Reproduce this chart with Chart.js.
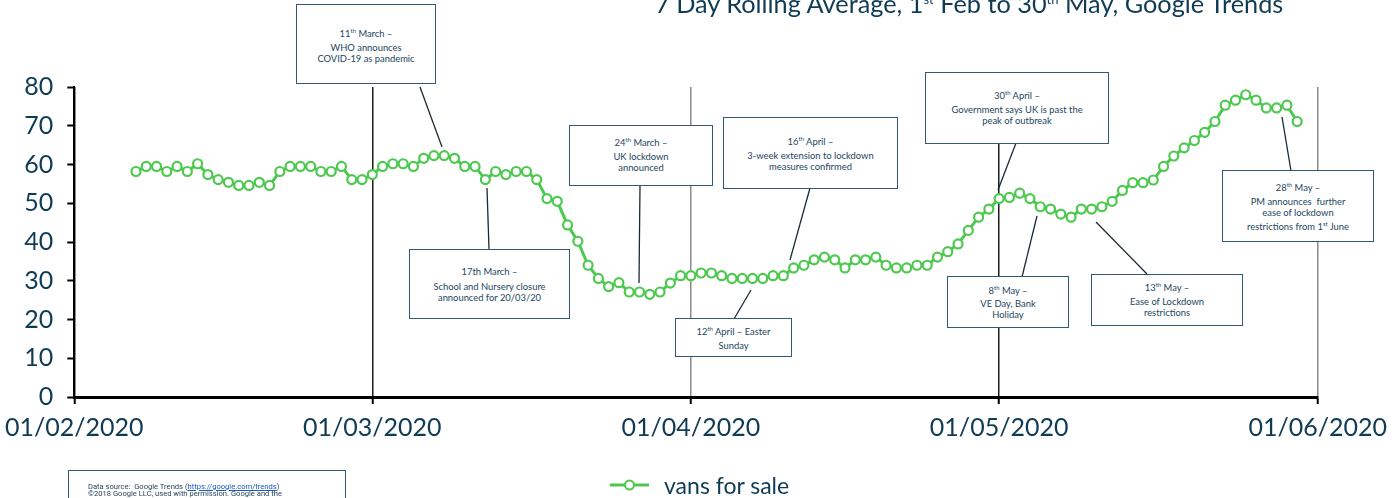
<!DOCTYPE html>
<html lang="en">
<head>
<meta charset="UTF-8">
<title>vans for sale - Google Trends</title>
<script src="https://cdn.jsdelivr.net/npm/chart.js"></script>
<style>
    body { margin: 0; background: #fff; }
    .wrap { position: relative; width: 1392px; height: 498px; overflow: hidden; font-family: Lato, sans-serif; }
    canvas { position: absolute; left: 0; top: 0; }
    .title { position: absolute; left: 655px; top: -12px; font-size: 25.3px; color: #0f3b55; white-space: nowrap; }
    .title sup { font-size: 13px; }
    .note { position: absolute; background: #fff; border: 1.5px solid #34586e; box-sizing: border-box;
            text-align: center; font-size: 9.4px; line-height: 11px; color: #23465e; }
    .note .h { margin-bottom: 2.5px; }
    .note sup { font-size: 6px; line-height: 0; }
    svg.links { position: absolute; left: 0; top: 0; }
    .source { position: absolute; left: 68px; top: 470px; width: 278px; height: 40px; border: 1.5px solid #34586e;
              box-sizing: border-box; font-family: Roboto, sans-serif; font-size: 7.6px; line-height: 7px;
              color: #1f3d55; padding: 12px 0 0 19px; white-space: nowrap; }
    .source a { color: #1a56c4; text-decoration: underline; }
    .legend { position: absolute; left: 608px; top: 472px; height: 26px; display: flex; align-items: center; }
    .legend span { font-size: 23px; color: #0f3b55; margin-left: 12px; }
</style>
</head>
<body>
<div class="wrap">
    <canvas id="trendChart" width="1392" height="498"></canvas>

    <div class="title">7 Day Rolling Average, 1<sup>st</sup> Feb to 30<sup>th</sup> May,  Google Trends</div>

    <!-- connector lines for the event notes -->
    <svg class="links" width="1392" height="498">
        <g stroke="#1b2b36" stroke-width="1.3">
            <line x1="420" y1="87" x2="442" y2="147"/>
            <line x1="487" y1="188" x2="489" y2="249"/>
            <line x1="640" y1="185" x2="639" y2="283"/>
            <line x1="734" y1="319" x2="751" y2="290"/>
            <line x1="810" y1="188" x2="790" y2="260"/>
            <line x1="1016" y1="143" x2="998" y2="190"/>
            <line x1="1022" y1="277" x2="1037" y2="216"/>
            <line x1="1147" y1="274" x2="1096" y2="222"/>
            <line x1="1291" y1="171" x2="1282" y2="117"/>
        </g>
    </svg>

    <div class="note" style="left:296px;top:4px;width:140px;height:80px;padding-top:23px;">
        <div class="h">11<sup>th</sup> March –</div>WHO announces<br>COVID-19 as pandemic</div>
    <div class="note" style="left:409px;top:249px;width:161px;height:70px;padding-top:16px;">
        <div class="h" style="margin-bottom:3.5px">17th March –</div>School and Nursery closure<br>announced for 20/03/20</div>
    <div class="note" style="left:569px;top:125px;width:144px;height:61px;padding-top:11px;">
        <div class="h">24<sup>th</sup> March –</div>UK lockdown<br>announced</div>
    <div class="note" style="left:675px;top:318px;width:117px;height:39px;padding-top:7px;">
        <div class="h">12<sup>th</sup> April – Easter</div>Sunday</div>
    <div class="note" style="left:723px;top:117px;width:175px;height:72px;padding-top:18px;">
        <div class="h">16<sup>th</sup> April –</div>3-week extension to lockdown<br>measures confirmed</div>
    <div class="note" style="left:925px;top:72px;width:184px;height:72px;padding-top:17px;">
        <div class="h">30<sup>th</sup> April –</div>Government says UK is past the<br>peak of outbreak</div>
    <div class="note" style="left:947px;top:276px;width:122px;height:52px;padding-top:8px;">
        <div class="h" style="margin-bottom:1.5px">8<sup>th</sup> May –</div>VE Day, Bank<br>Holiday</div>
    <div class="note" style="left:1091px;top:274px;width:152px;height:52px;padding-top:7px;">
        <div class="h">13<sup>th</sup> May –</div>Ease of Lockdown<br>restrictions</div>
    <div class="note" style="left:1222px;top:170px;width:152px;height:72px;padding-top:11px;">
        <div class="h">28<sup>th</sup> May –</div>PM announces &nbsp;further<br>ease of lockdown<br><div style="margin-top:3px">restrictions from 1<sup>st</sup> June</div></div>

    <div class="source">Data source:&nbsp; Google Trends (<a>https://google.com/trends</a>)<br>©2018 Google LLC, used with permission. Google and the</div>

    <div class="legend">
        <svg width="44" height="14"><line x1="2" y1="7" x2="41" y2="7" stroke="#4dc94f" stroke-width="3"/><circle cx="21.5" cy="7" r="4.5" fill="#fff" stroke="#4dc94f" stroke-width="2"/></svg>
        <span>vans for sale</span>
    </div>
</div>

<script>
    // days counted from 01/02/2020 (day 0)
    const firstDay = 6; // 7th Feb, first value of the rolling average
    const monthDays = [0, 29, 60, 90, 121];
    const monthLabels = ['01/02/2020', '01/03/2020', '01/04/2020', '01/05/2020', '01/06/2020'];

    // 7 day rolling average, 7th Feb .. 30th May
    const febValues = [58.2, 59.5, 59.5, 58.2, 59.5, 58.2, 60.2, 57.4, 56.1, 55.4, 54.6, 54.6,
        55.4, 54.6, 58.2, 59.5, 59.5, 59.5, 58.2, 58.2, 59.5, 56.1, 56.1];
    const marValues = [57.4, 59.5, 60.2, 60.2, 59.5, 61.6, 62.3, 62.3, 61.6, 59.5, 59.5, 56.1,
        58.2, 57.4, 58.2, 58.2, 56.1, 51.2, 50.5, 44.4, 40.2, 34.0, 30.6, 28.5, 29.5, 27.1,
        27.1, 26.5, 27.1, 29.4, 31.3];
    const aprValues = [31.3, 32.0, 32.0, 31.3, 30.6, 30.6, 30.6, 30.6, 31.3, 31.3, 33.3, 34.0,
        35.4, 36.1, 35.4, 33.3, 35.4, 35.4, 36.1, 34.0, 33.3, 33.3, 34.0, 34.0, 36.1, 37.5,
        39.5, 43.0, 46.4, 48.5];
    const mayValues = [51.2, 51.5, 52.6, 51.2, 49.1, 48.5, 47.2, 46.4, 48.5, 48.5, 49.1, 50.5,
        53.3, 55.3, 55.3, 56.0, 59.5, 62.2, 64.3, 66.2, 68.3, 71.1, 75.3, 76.6, 78.0, 76.6,
        74.6, 74.6, 75.3, 71.1];

    const values = febValues.concat(marValues, aprValues, mayValues);
    const points = values.map((v, i) => ({ x: firstDay + i, y: v }));

    const green = '#4dc94f';
    const ink = '#0f3b55';

    new Chart(document.getElementById('trendChart'), {
        type: 'line',
        data: {
            datasets: [{
                label: 'vans for sale',
                data: points,
                borderColor: green,
                borderWidth: 3,
                pointRadius: 4.5,
                pointBorderWidth: 2.2,
                pointBackgroundColor: '#fff',
                pointBorderColor: green,
                tension: 0
            }]
        },
        options: {
            responsive: false,
            animation: false,
            layout: { padding: { top: 87, right: 74, left: 0, bottom: 0 } },
            plugins: {
                legend: { display: false },
                tooltip: { enabled: false }
            },
            scales: {
                x: {
                    type: 'linear',
                    min: 0,
                    max: 121,
                    afterBuildTicks: (scale) => { scale.ticks = monthDays.map(v => ({ value: v })); },
                    afterFit: (scale) => { scale.height = 101; },
                    ticks: {
                        autoSkip: false,
                        maxRotation: 0,
                        padding: 5,
                        color: ink,
                        font: { family: 'Lato', size: 25, lineHeight: 1.5 },
                        callback: (v) => monthLabels[monthDays.indexOf(v)]
                    },
                    grid: {
                        color: (ctx) => (ctx.tick && (ctx.tick.value === 60 || ctx.tick.value === 121)) ? '#8a8a8a' : '#1c1c1c',
                        lineWidth: 1.5,
                        tickLength: 7,
                        tickColor: '#000',
                        tickWidth: 2
                    },
                    border: { color: '#000', width: 3 }
                },
                y: {
                    min: 0,
                    max: 80,
                    afterFit: (scale) => { scale.width = 74; },
                    ticks: {
                        stepSize: 10,
                        padding: 14,
                        color: ink,
                        font: { family: 'Lato', size: 25 }
                    },
                    grid: {
                        drawOnChartArea: false,
                        tickLength: 7,
                        tickColor: '#000',
                        tickWidth: 2
                    },
                    border: { color: '#000', width: 2 }
                }
            }
        }
    });
</script>
</body>
</html>
